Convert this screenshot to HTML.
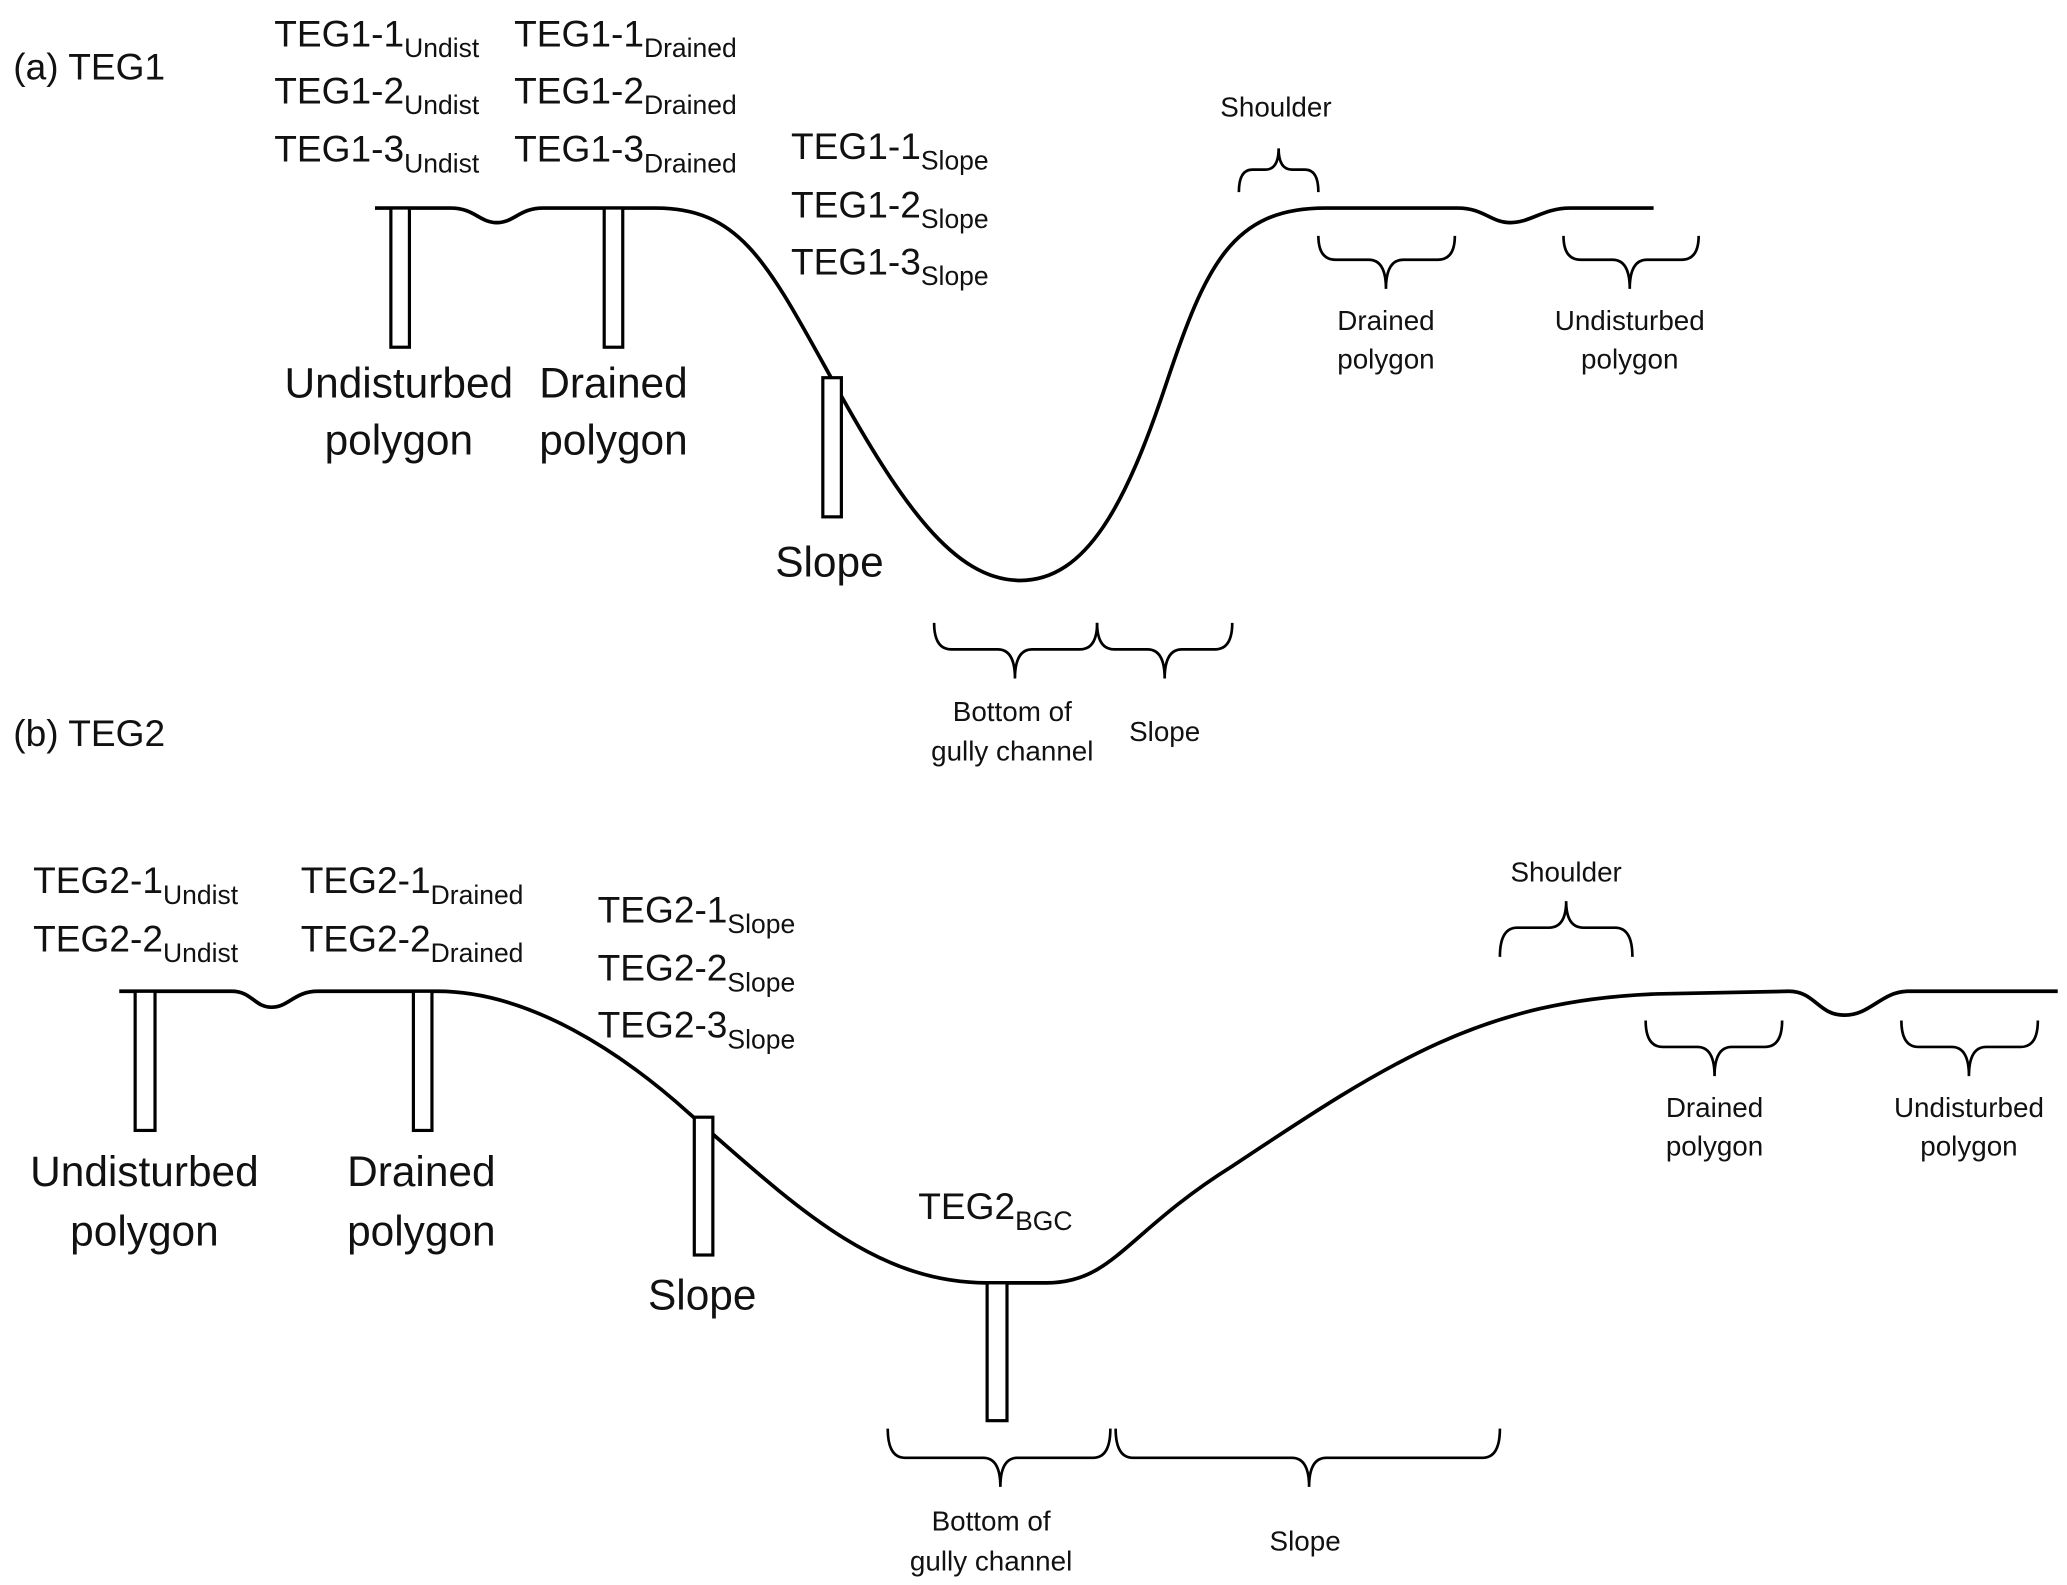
<!DOCTYPE html>
<html><head><meta charset="utf-8">
<style>
html,body{margin:0;padding:0;background:#fff;}
svg{display:block;}
text{font-family:"Liberation Sans",sans-serif;fill:#111;}
.big{font-size:28px;}
.sub{font-size:20px;}
.sm{font-size:21px;}
.lab{font-size:32px;}
</style></head>
<body>
<svg width="2067" height="1585" viewBox="0 0 1560 1196" preserveAspectRatio="none" xmlns="http://www.w3.org/2000/svg">
<g fill="none" stroke="#000" stroke-width="2.8">
<path d="M283 157 L340 157 C358 157 362 168 375 168 C388 168 392 157 410 157 L495 157 C560 157 580 200 630 290 C680 380 720 438 770 438 C820 438 850 380 880 290 C910 200 930 157 1000 157 L1100 157 C1120 157 1125 168 1140 168 C1155 168 1165 157 1185 157 L1248 157"/>
<path d="M90 748 L175 748 C190 748 192 760 205 760 C218 760 222 748 240 748 L330 748 C400 748 470 795 520 840 C600 910 660 968 745 968 L790 968 C840 968 850 930 930 880 C1050 800 1120 755 1250 750 L1350 748 C1370 748 1372 766 1392 766 C1412 766 1420 748 1440 748 L1553 748"/>
</g>
<g fill="#fff" stroke="#000" stroke-width="2.4">
<rect x="295" y="157" width="14" height="105"/>
<rect x="456" y="157" width="14" height="105"/>
<rect x="621" y="285" width="14" height="105"/>
<rect x="102" y="748" width="15" height="105"/>
<rect x="312" y="748" width="14" height="105"/>
<rect x="524" y="843" width="14" height="104"/>
<rect x="745" y="968" width="15" height="104"/>
</g>
<g fill="none" stroke="#000" stroke-width="2">
<path d="M935 145 Q935 128 945 128 L955 128 Q965 128 965 112 Q965 128 975 128 L985 128 Q995 128 995 145"/>
<path d="M995 178 Q995 196 1008 196 L1033 196 Q1046 196 1046 218 Q1046 196 1059 196 L1085 196 Q1098 196 1098 178"/>
<path d="M1180 178 Q1180 196 1193 196 L1217 196 Q1230 196 1230 218 Q1230 196 1243 196 L1269 196 Q1282 196 1282 178"/>
<path d="M705 470 Q705 490 718 490 L753 490 Q766 490 766 512 Q766 490 779 490 L815 490 Q828 490 828 470"/>
<path d="M828 470 Q828 490 841 490 L866 490 Q879 490 879 512 Q879 490 892 490 L917 490 Q930 490 930 470"/>
<path d="M1132 722 Q1132 700 1145 700 L1169 700 Q1182 700 1182 680 Q1182 700 1195 700 L1219 700 Q1232 700 1232 722"/>
<path d="M1242 770 Q1242 790 1255 790 L1281 790 Q1294 790 1294 812 Q1294 790 1307 790 L1332 790 Q1345 790 1345 770"/>
<path d="M1435 770 Q1435 790 1448 790 L1473 790 Q1486 790 1486 812 Q1486 790 1499 790 L1525 790 Q1538 790 1538 770"/>
<path d="M670 1078 Q670 1100 683 1100 L742 1100 Q755 1100 755 1122 Q755 1100 768 1100 L825 1100 Q838 1100 838 1078"/>
<path d="M842 1078 Q842 1100 855 1100 L975 1100 Q988 1100 988 1122 Q988 1100 1001 1100 L1119 1100 Q1132 1100 1132 1078"/>
</g>
<text x="10" y="60" class="big">(a) TEG1</text>
<text x="207" y="35" class="big">TEG1-1<tspan class="sub" dy="8">Undist</tspan></text>
<text x="207" y="78" class="big">TEG1-2<tspan class="sub" dy="8">Undist</tspan></text>
<text x="207" y="122" class="big">TEG1-3<tspan class="sub" dy="8">Undist</tspan></text>
<text x="388" y="35" class="big">TEG1-1<tspan class="sub" dy="8">Drained</tspan></text>
<text x="388" y="78" class="big">TEG1-2<tspan class="sub" dy="8">Drained</tspan></text>
<text x="388" y="122" class="big">TEG1-3<tspan class="sub" dy="8">Drained</tspan></text>
<text x="597" y="120" class="big">TEG1-1<tspan class="sub" dy="8">Slope</tspan></text>
<text x="597" y="164" class="big">TEG1-2<tspan class="sub" dy="8">Slope</tspan></text>
<text x="597" y="207" class="big">TEG1-3<tspan class="sub" dy="8">Slope</tspan></text>
<g text-anchor="middle">
<text x="301" y="300" class="lab">Undisturbed</text>
<text x="301" y="343" class="lab">polygon</text>
<text x="463" y="300" class="lab">Drained</text>
<text x="463" y="343" class="lab">polygon</text>
<text x="626" y="435" class="lab">Slope</text>
<text x="963" y="88" class="sm">Shoulder</text>
<text x="1046" y="249" class="sm">Drained</text>
<text x="1046" y="278" class="sm">polygon</text>
<text x="1230" y="249" class="sm">Undisturbed</text>
<text x="1230" y="278" class="sm">polygon</text>
<text x="764" y="544" class="sm">Bottom of</text>
<text x="764" y="574" class="sm">gully channel</text>
<text x="879" y="559" class="sm">Slope</text>
</g>
<text x="10" y="563" class="big">(b) TEG2</text>
<text x="25" y="674" class="big">TEG2-1<tspan class="sub" dy="8">Undist</tspan></text>
<text x="25" y="718" class="big">TEG2-2<tspan class="sub" dy="8">Undist</tspan></text>
<text x="227" y="674" class="big">TEG2-1<tspan class="sub" dy="8">Drained</tspan></text>
<text x="227" y="718" class="big">TEG2-2<tspan class="sub" dy="8">Drained</tspan></text>
<text x="451" y="696" class="big">TEG2-1<tspan class="sub" dy="8">Slope</tspan></text>
<text x="451" y="740" class="big">TEG2-2<tspan class="sub" dy="8">Slope</tspan></text>
<text x="451" y="783" class="big">TEG2-3<tspan class="sub" dy="8">Slope</tspan></text>
<text x="693" y="920" class="big">TEG2<tspan class="sub" dy="8">BGC</tspan></text>
<g text-anchor="middle">
<text x="109" y="895" class="lab">Undisturbed</text>
<text x="109" y="940" class="lab">polygon</text>
<text x="318" y="895" class="lab">Drained</text>
<text x="318" y="940" class="lab">polygon</text>
<text x="530" y="988" class="lab">Slope</text>
<text x="1182" y="665" class="sm">Shoulder</text>
<text x="1294" y="843" class="sm">Drained</text>
<text x="1294" y="872" class="sm">polygon</text>
<text x="1486" y="843" class="sm">Undisturbed</text>
<text x="1486" y="872" class="sm">polygon</text>
<text x="748" y="1155" class="sm">Bottom of</text>
<text x="748" y="1185" class="sm">gully channel</text>
<text x="985" y="1170" class="sm">Slope</text>
</g>
</svg>
</body></html>
